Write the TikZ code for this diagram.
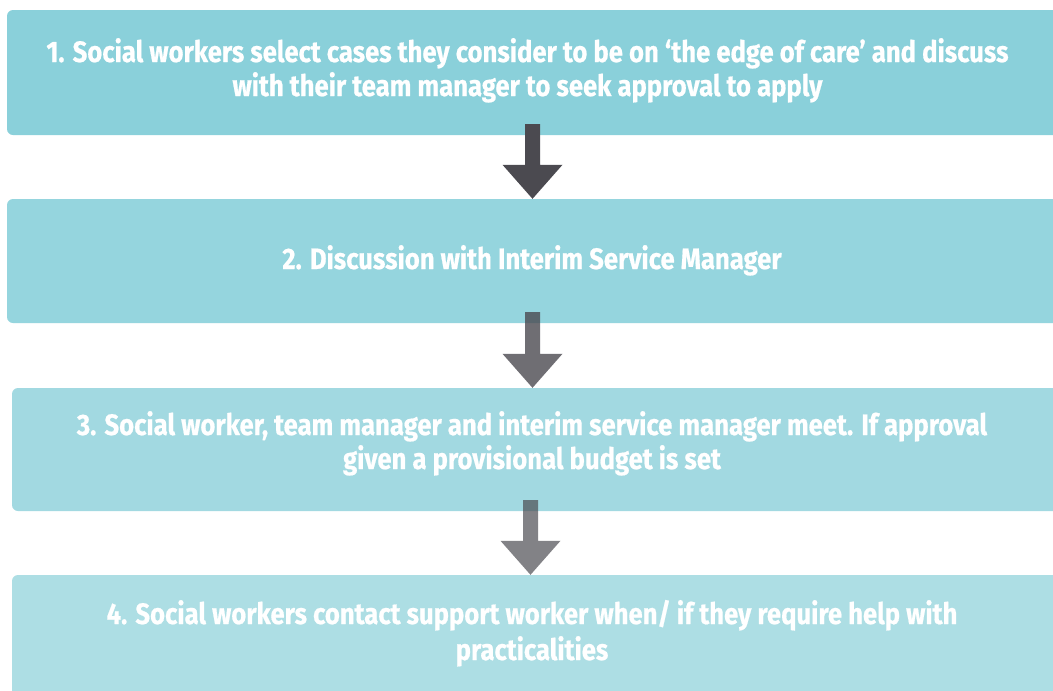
\documentclass[tikz,border=0pt]{standalone}
\usepackage{fontspec}
\newfontfamily\boxfont[FakeStretch=0.87,FakeBold=0.6]{Fira Sans}
\usetikzlibrary{calc}
\definecolor{boxA}{HTML}{8AD0DA}
\definecolor{boxB}{HTML}{95D5DE}
\definecolor{boxC}{HTML}{A2D9E1}
\definecolor{boxD}{HTML}{ADDEE4}
\definecolor{arrowgray}{HTML}{4B4A50}
\newcommand\flowarrow[3]{%
  \fill[#3] ($(#1)+(-7.5,0)$) -- ($(#2)+(-7.5,-34)$) -- ($(#2)+(-30,-34)$) -- (#2)
    -- ($(#2)+(30,-34)$) -- ($(#2)+(7.5,-34)$) -- ($(#1)+(7.5,0)$) -- cycle;}
\begin{document}
\begin{tikzpicture}[x=1pt,y=-1pt,
  stepbox/.style={rectangle, rounded corners=6pt, inner sep=0pt, draw=none},
  steptext/.style={text=white, align=center, inner sep=0pt,
    font=\boxfont\bfseries\fontsize{29.5pt}{#1}\selectfont},
  steptext/.default=34pt,
  flowarrowstyle/.style={fill=arrowgray, fill opacity=#1}]
\useasboundingbox (0,0) rectangle (1053,691);
\clip (0,0) rectangle (1053,691);
\fill[white] (0,0) rectangle (1053,691);
% boxes
\node[stepbox, fill=boxA, minimum width=1056pt, minimum height=125pt] (b1) at (535,72.5) {};
\node[stepbox, fill=boxB, minimum width=1056pt, minimum height=124pt] (b2) at (535,261) {};
\node[stepbox, fill=boxC, minimum width=1051pt, minimum height=123pt] (b3) at (537.5,449.5) {};
\node[stepbox, fill=boxD, minimum width=1051pt, minimum height=125pt] (b4) at (537.5,637.5) {};
% texts (anchor base = baseline of the last line)
\node[steptext, anchor=base] (t1) at (527.5,96) {1. Social workers select cases they consider to be on ‘the edge of care’ and discuss\\with their team manager to seek approval to apply};
\node[steptext, anchor=base] (t2) at (532,269) {2. Discussion with Interim Service Manager};
\node[steptext, anchor=base] (t3) at (532,469) {3. Social worker, team manager and interim service manager meet. If approval\\given a provisional budget is set};
\node[steptext=36pt, anchor=base] (t4) at (532,660) {4. Social workers contact support worker when/ if they require help with\\practicalities};
% arrows
\coordinate (s1) at (532.5,124);
\coordinate (e1) at (532.5,0 |- b2.north);
\coordinate (s2) at (532.5,312);
\coordinate (e2) at (532.5,0 |- b3.north);
\coordinate (s3) at (530.5,500);
\coordinate (e3) at (530.5,0 |- b4.north);
\flowarrow{s1}{e1}{flowarrowstyle=1}
\flowarrow{s2}{e2}{flowarrowstyle=0.8}
\flowarrow{s3}{e3}{flowarrowstyle=0.69}
\end{tikzpicture}
\end{document}
